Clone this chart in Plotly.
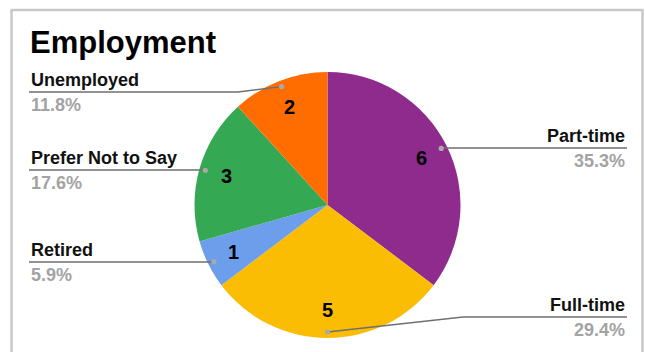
import math
import plotly.graph_objects as go

# Employment breakdown (counts of respondents)
categories = ["Part-time", "Full-time", "Retired", "Prefer Not to Say", "Unemployed"]
counts = [6, 5, 1, 3, 2]
colors = ["#8e2b8d", "#fbbc04", "#6d9eeb", "#34a853", "#ff6d01"]

W, H = 645, 352
CX, CY, R = 327.5, 205.0, 133.0   # pie centre and radius in pixels
FONT = "Liberation Sans, Arial, sans-serif"


def fx(x):
    return x / W


def fy(y):
    return 1 - y / H


# label placement: side, leader line height, knee x of the leader line
label_layout = {
    "Part-time": ("right", 148, None),
    "Full-time": ("right", 317, 463),
    "Retired": ("left", 262, None),
    "Prefer Not to Say": ("left", 170, None),
    "Unemployed": ("left", 92, 238),
}

total = sum(counts)
fig = go.Figure(
    go.Pie(
        labels=categories,
        values=counts,
        marker=dict(colors=colors, line=dict(width=0)),
        sort=False,
        direction="clockwise",
        rotation=0,
        textinfo="none",
        hoverinfo="label+value+percent",
        domain=dict(x=[fx(CX - R), fx(CX + R)], y=[fy(CY + R), fy(CY - R)]),
        showlegend=False,
    )
)

annotations = [
    dict(text="<b>Employment</b>", x=fx(28), y=fy(42), xref="paper", yref="paper",
         xanchor="left", yanchor="middle", showarrow=False,
         font=dict(family=FONT, size=31, color="#000000")),
]
shapes = [
    # chart frame
    dict(type="line", xref="paper", yref="paper", x0=fx(11.5), x1=fx(11.5), y0=fy(9), y1=fy(H + 2),
         line=dict(color="#c8c8c8", width=2.5)),
    dict(type="line", xref="paper", yref="paper", x0=fx(11.5), x1=fx(642.5), y0=fy(10), y1=fy(10),
         line=dict(color="#c8c8c8", width=2.5)),
    dict(type="line", xref="paper", yref="paper", x0=fx(642.5), x1=fx(642.5), y0=fy(9), y1=fy(H + 2),
         line=dict(color="#c8c8c8", width=2.5)),
]

cum = 0
for name, val in zip(categories, counts):
    start = cum / total * 2 * math.pi
    cum += val
    end = cum / total * 2 * math.pi
    mid = (start + end) / 2
    sx, sy = math.sin(mid), -math.cos(mid)

    # value inside the slice
    annotations.append(dict(
        text=f"<b>{val}</b>", x=fx(CX + 0.79 * R * sx), y=fy(CY + 0.79 * R * sy),
        xref="paper", yref="paper", showarrow=False, xanchor="center", yanchor="middle",
        font=dict(family=FONT, size=20, color="#000000")))

    # leader line to the outside label
    side, ly, knee = label_layout[name]
    dx, dy = CX + 0.955 * R * sx, CY + 0.955 * R * sy
    lx = 29 if side == "left" else 627
    if knee is None:
        knee = dx
    path = (f"M {fx(lx)},{fy(ly)} L {fx(knee)},{fy(ly)} L {fx(dx)},{fy(dy)}")
    shapes.append(dict(type="path", xref="paper", yref="paper", path=path,
                       line=dict(color="#6f6f6f", width=1.3)))
    shapes.append(dict(type="circle", xref="paper", yref="paper",
                       x0=fx(dx - 2.6), x1=fx(dx + 2.6), y0=fy(dy - 2.6), y1=fy(dy + 2.6),
                       fillcolor="#a9a9a9", line=dict(width=0)))

    anchor = "left" if side == "left" else "right"
    pct = val / total * 100
    annotations.append(dict(
        text=f"<b>{name}</b>", x=fx(lx), y=fy(ly - 12), xref="paper", yref="paper",
        xanchor=anchor, yanchor="middle", showarrow=False,
        font=dict(family=FONT, size=18, color="#111111")))
    annotations.append(dict(
        text=f"<b>{pct:.1f}%</b>", x=fx(lx), y=fy(ly + 13), xref="paper", yref="paper",
        xanchor=anchor, yanchor="middle", showarrow=False,
        font=dict(family=FONT, size=18, color="#a3a3a3")))

fig.update_layout(
    width=W, height=H,
    margin=dict(l=0, r=0, t=0, b=0),
    paper_bgcolor="#ffffff",
    plot_bgcolor="#ffffff",
    annotations=annotations,
    shapes=shapes,
)

fig.write_html("out.html")
